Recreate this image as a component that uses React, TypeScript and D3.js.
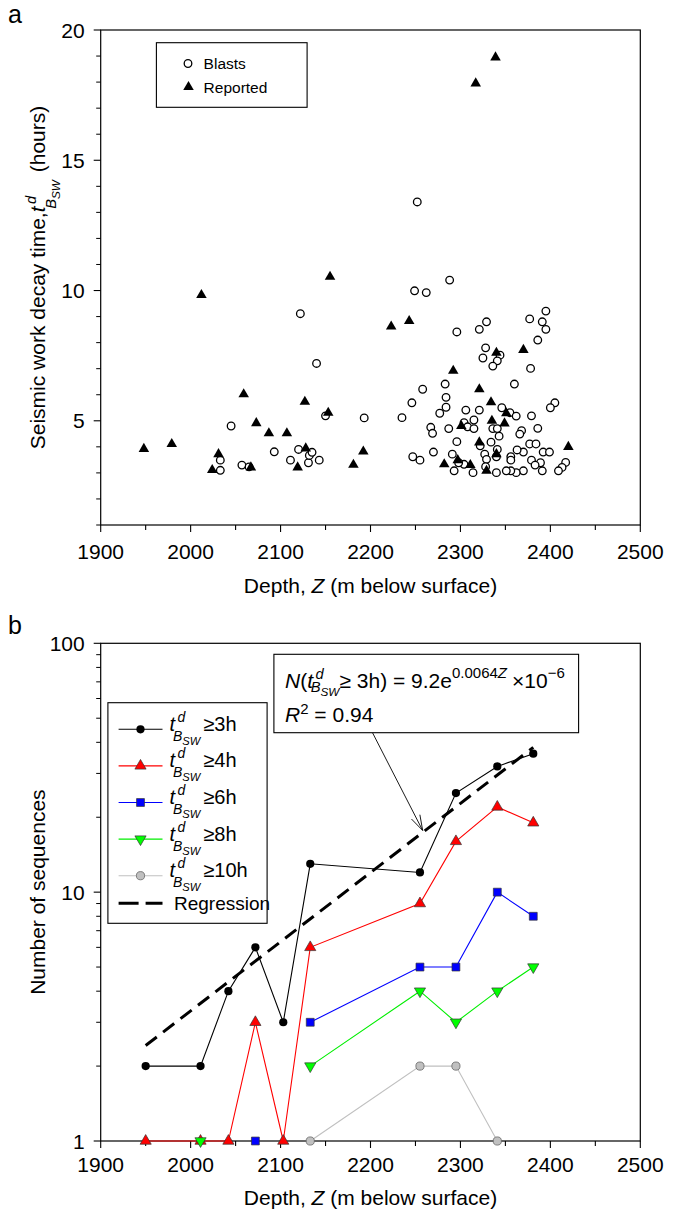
import React from "react";
import * as d3 from "d3";

// ---------- DATA ----------
// Panel a: [depth Z (m), decay time (h)]
const blasts: [number, number][] = [
  [2033, 3.49], [2033, 3.1], [2045, 4.8], [2057, 3.3], [2065, 3.23], [2093, 3.81],
  [2111, 3.49], [2120, 3.9], [2122, 9.11], [2131, 3.39], [2132, 3.67], [2135, 3.79],
  [2140, 7.2], [2143, 3.49], [2150, 5.19], [2193, 5.11], [2235, 5.12],
  [2252, 13.4], [2249, 9.99], [2262, 9.92], [2288, 10.4],
  [2395, 9.21], [2377, 8.91], [2391, 8.8], [2395, 8.51], [2329, 8.8], [2321, 8.51],
  [2296, 8.41], [2386, 8.1], [2328, 7.8], [2344, 7.52], [2325, 7.41], [2341, 7.3],
  [2336, 7.1], [2378, 7.01], [2258, 6.21], [2283, 6.41], [2360, 6.41], [2284, 5.9],
  [2246, 5.69], [2284, 5.52], [2277, 5.29], [2306, 5.41], [2321, 5.41], [2346, 5.5],
  [2355, 5.31], [2362, 5.18], [2405, 5.69], [2400, 5.5], [2379, 5.19], [2315, 5.03],
  [2304, 4.93], [2308, 4.77], [2315, 4.7], [2267, 4.75], [2269, 4.52], [2287, 4.7],
  [2336, 4.7], [2341, 4.7], [2343, 4.41], [2368, 4.62], [2366, 4.49], [2386, 4.71],
  [2296, 4.2], [2334, 4.18], [2322, 4.04], [2341, 3.9], [2377, 4.11], [2384, 4.11],
  [2370, 3.8], [2392, 3.8], [2399, 3.8], [2270, 3.8], [2291, 3.72], [2327, 3.72],
  [2340, 3.62], [2356, 3.62], [2363, 3.88], [2247, 3.62], [2255, 3.49], [2329, 3.52],
  [2356, 3.49], [2379, 3.49], [2389, 3.39], [2417, 3.4], [2413, 3.21], [2409, 3.08],
  [2391, 3.08], [2383, 3.3], [2370, 3.08], [2362, 3.01], [2356, 3.08], [2351, 3.08],
  [2340, 3.01], [2328, 3.24], [2314, 3.01], [2304, 3.33], [2298, 3.39], [2293, 3.08],
];
const reported: [number, number][] = [
  [1948, 3.92], [1979, 4.11], [2012, 9.83], [2024, 3.11], [2031, 3.72], [2059, 6.02],
  [2067, 3.21], [2073, 4.91], [2087, 4.52], [2107, 4.52], [2119, 3.21], [2127, 5.73],
  [2128, 3.94], [2153, 5.31], [2155, 10.53], [2181, 3.31], [2192, 3.82], [2223, 8.62],
  [2243, 8.83], [2282, 3.33], [2292, 6.92], [2297, 3.49], [2301, 4.8], [2311, 3.3],
  [2317, 17.95], [2321, 6.21], [2321, 4.17], [2329, 3.08], [2334, 5.71], [2335, 5.0],
  [2339, 18.95], [2340, 7.61], [2340, 3.72], [2349, 4.9], [2351, 5.29], [2370, 7.72],
  [2420, 4.0],
];

// Panel b: number of sequences per depth level
const levelDepths = [1950, 2011, 2042, 2072, 2103, 2133, 2255, 2295, 2341, 2381];
const countGe3 = [2, 2, 4, 6, 3, 13, 12, 25, 32, 36];
const countGe4 = [1, 1, 1, 3, 1, 6, 9, 16, 22, 19];
const countGe6 = [null, null, null, 1, null, 3, 5, 5, 10, 8];
const countGe8 = [null, 1, null, null, null, 2, 4, 3, 4, 5];
const countGe10 = [null, null, null, null, null, 1, 2, 2, 1, null];
const thresholds = ["3h", "4h", "6h", "8h", "10h"];

// Regression N = A * exp(B*Z)
const regA = 9.2e-6;
const regB = 0.0064;
const regDomain = [1950, 2381];
const regArrowDepth = 2258;

const xTicks = [1900, 2000, 2100, 2200, 2300, 2400, 2500];
const xMinorTicks = [1950, 2050, 2150, 2250, 2350, 2450];
const yTicksA = [5, 10, 15, 20];
const yTicksB = [1, 10, 100];

// ---------- LAYOUT ----------
const W = 677;
const H = 1211;
const XL = 100.7;
const XR = 640.3;
const A_TOP = 30;
const A_BOT = 525;
const B_TOP = 643.3;
const B_BOT = 1141;
const FONT = "'Liberation Sans', Arial, Helvetica, sans-serif";

const xA = d3.scaleLinear().domain([1900, 2500]).range([XL, XR]);
const yA = d3.scaleLinear().domain([1, 20]).range([A_BOT, A_TOP]);
const xB = d3.scaleLinear().domain([1900, 2500]).range([XL, XR]);
const yB = d3.scaleLog().domain([1, 100]).range([B_BOT, B_TOP]);

const triUp = d3.symbol().type(d3.symbolTriangle).size(48)()!;
const triUpB = d3.symbol().type(d3.symbolTriangle).size(54)()!;
const squareB = d3.symbol().type(d3.symbolSquare).size(62)()!;

// t^d_{B_SW} as flowing tspans; drop = how far the B baseline sits below the main baseline (in em)
function tParts(s: number, rest: string, restDx: number, k: string, drop = 0.5) {
  return [
    <tspan key={k + "t"} fontStyle="italic">t</tspan>,
    <tspan key={k + "d"} fontStyle="italic" fontSize={0.7 * s} dx={0.12 * s} dy={-0.45 * s}>d</tspan>,
    <tspan key={k + "B"} fontStyle="italic" fontSize={0.7 * s} dx={-0.62 * s} dy={(0.45 + drop) * s}>B</tspan>,
    <tspan key={k + "S"} fontStyle="italic" fontSize={0.56 * s} dy={0.2 * s}>SW</tspan>,
    <tspan key={k + "r"} dx={restDx} dy={-(drop + 0.2) * s}>{rest}</tspan>,
  ];
}

type SeriesDef = {
  values: (number | null)[];
  color: string;
  marker: "circle" | "tri" | "square" | "triDown" | "gcircle";
  fill: string;
  stroke: string;
};

const seriesDefs: SeriesDef[] = [
  { values: countGe3, color: "#000000", marker: "circle", fill: "#000000", stroke: "#000000" },
  { values: countGe4, color: "#ff0000", marker: "tri", fill: "#ff0000", stroke: "#333333" },
  { values: countGe6, color: "#0000ff", marker: "square", fill: "#0000ff", stroke: "#333333" },
  { values: countGe8, color: "#00ee00", marker: "triDown", fill: "#00ff00", stroke: "#333333" },
  { values: countGe10, color: "#c0c0c0", marker: "gcircle", fill: "#c0c0c0", stroke: "#666666" },
];

function Marker({ m, x, y, fill, stroke }: { m: SeriesDef["marker"]; x: number; y: number; fill: string; stroke: string }) {
  if (m === "circle") return <circle cx={x} cy={y} r={4.1} fill={fill} />;
  if (m === "gcircle") return <circle cx={x} cy={y} r={4.1} fill={fill} stroke={stroke} strokeWidth={0.8} />;
  if (m === "tri") return <path d={triUpB} transform={`translate(${x},${y})`} fill={fill} stroke={stroke} strokeWidth={0.7} />;
  if (m === "triDown") return <path d={triUpB} transform={`translate(${x},${y}) rotate(180)`} fill={fill} stroke={stroke} strokeWidth={0.7} />;
  return <path d={squareB} transform={`translate(${x},${y})`} fill={fill} stroke={stroke} strokeWidth={0.7} />;
}

function XAxis({ scale, y, labelBase, titleBase }: { scale: d3.ScaleLinear<number, number>; y: number; labelBase: number; titleBase: number }) {
  return (
    <g>
      {xTicks.map((t) => (
        <g key={t}>
          <line x1={scale(t)} x2={scale(t)} y1={y} y2={y + 7} stroke="#000" strokeWidth={1.1} />
          <text x={scale(t)} y={labelBase} textAnchor="middle" fontSize={21}>{t}</text>
        </g>
      ))}
      {xMinorTicks.map((t) => (
        <line key={t} x1={scale(t)} x2={scale(t)} y1={y} y2={y + 5} stroke="#000" strokeWidth={1.1} />
      ))}
      <text x={(XL + XR) / 2} y={titleBase} textAnchor="middle" fontSize={21}>
        Depth, <tspan fontStyle="italic">Z</tspan> (m below surface)
      </text>
    </g>
  );
}

export default function App() {
  const lineGen = d3
    .line<[number, number | null]>()
    .defined((d) => d[1] !== null)
    .x((d) => xB(d[0]))
    .y((d) => yB(d[1] as number));

  const regPts: [number, number][] = regDomain.map((z) => [xB(z), yB(regA * Math.exp(regB * z))]);

  const tipX = xB(regArrowDepth);
  const tipY = yB(regA * Math.exp(regB * regArrowDepth)) - 2;
  const startX = 372.5;
  const startY = 732.7;
  const ang = Math.atan2(tipY - startY, tipX - startX);
  const hl = 16;
  const hw = 0.3;
  const wing1 = [tipX - hl * Math.cos(ang - hw), tipY - hl * Math.sin(ang - hw)];
  const wing2 = [tipX - hl * Math.cos(ang + hw), tipY - hl * Math.sin(ang + hw)];

  const yMinorA = d3.range(1, 21).filter((v) => !yTicksA.includes(v));
  const yMinorB: number[] = [];
  [1, 10].forEach((dec) => d3.range(2, 10).forEach((k) => yMinorB.push(k * dec)));

  const legendRowsY = [729.3, 765.9, 802.5, 839.1, 875.7];

  return (
    <svg
      width={W}
      height={H}
      style={{ position: "absolute", left: 0, top: 0, background: "#fff" }}
      fontFamily={FONT}
    >
      <rect x={0} y={0} width={W} height={H} fill="#fff" />

      {/* ================= PANEL A ================= */}
      <text x={8} y={23} fontSize={25}>a</text>
      <rect x={XL} y={A_TOP} width={XR - XL} height={A_BOT - A_TOP} fill="none" stroke="#000" strokeWidth={1.2} />
      {yTicksA.map((t) => (
        <g key={t}>
          <line x1={XL - 7} x2={XL} y1={yA(t)} y2={yA(t)} stroke="#000" strokeWidth={1.1} />
          <text x={XL - 16} y={yA(t) + 7.5} textAnchor="end" fontSize={21}>{t}</text>
        </g>
      ))}
      {yMinorA.map((t) => (
        <line key={t} x1={XL - 4.5} x2={XL} y1={yA(t)} y2={yA(t)} stroke="#000" strokeWidth={1} />
      ))}
      <XAxis scale={xA} y={A_BOT} labelBase={558.5} titleBase={593} />
      <text transform={`translate(45,${(A_TOP + A_BOT) / 2}) rotate(-90)`} textAnchor="middle" fontSize={21}>
        Seismic work decay time,
        {tParts(21, " (hours)", 2, "ya")}
      </text>

      {blasts.map((d, i) => (
        <circle key={"b" + i} cx={xA(d[0])} cy={yA(d[1])} r={3.8} fill="#fff" stroke="#000" strokeWidth={1.3} />
      ))}
      {reported.map((d, i) => (
        <path key={"r" + i} d={triUp} transform={`translate(${xA(d[0])},${yA(d[1])})`} fill="#000" />
      ))}

      {/* legend a */}
      <rect x={156.4} y={42.7} width={150.7} height={64.6} fill="#fff" stroke="#000" strokeWidth={1.1} />
      <circle cx={188} cy={63.5} r={3.8} fill="#fff" stroke="#000" strokeWidth={1.3} />
      <text x={203.6} y={69.3} fontSize={15.5}>Blasts</text>
      <path d={triUp} transform="translate(188.5,87)" fill="#000" />
      <text x={203.6} y={92.7} fontSize={15.5}>Reported</text>

      {/* ================= PANEL B ================= */}
      <text x={8} y={634} fontSize={25}>b</text>
      <rect x={XL} y={B_TOP} width={XR - XL} height={B_BOT - B_TOP} fill="none" stroke="#000" strokeWidth={1.2} />
      {yTicksB.map((t) => (
        <g key={t}>
          <line x1={XL - 7} x2={XL} y1={yB(t)} y2={yB(t)} stroke="#000" strokeWidth={1.1} />
          <text x={XL - 16} y={yB(t) + 7.5} textAnchor="end" fontSize={21}>{t}</text>
        </g>
      ))}
      {yMinorB.map((t) => (
        <line key={t} x1={XL - 4.5} x2={XL} y1={yB(t)} y2={yB(t)} stroke="#000" strokeWidth={1} />
      ))}
      <XAxis scale={xB} y={B_BOT} labelBase={1172} titleBase={1205} />
      <text transform={`translate(45,${(B_TOP + B_BOT) / 2}) rotate(-90)`} textAnchor="middle" fontSize={21}>
        Number of sequences
      </text>

      {/* series */}
      {seriesDefs.map((s, si) => {
        const pts = levelDepths.map((z, i) => [z, s.values[i]] as [number, number | null]);
        return (
          <g key={"s" + si}>
            <path d={lineGen(pts) || ""} fill="none" stroke={s.color} strokeWidth={1.1} />
            {si === 0 && (
              <path
                d={d3.line()(regPts) || ""}
                fill="none"
                stroke="#000"
                strokeWidth={3}
                strokeDasharray="14,8"
              />
            )}
            {pts
              .filter((p) => p[1] !== null)
              .map((p, i) => (
                <Marker key={i} m={s.marker} x={xB(p[0])} y={yB(p[1] as number)} fill={s.fill} stroke={s.stroke} />
              ))}
          </g>
        );
      })}

      {/* equation box + arrow */}
      <line x1={startX} y1={startY} x2={tipX} y2={tipY} stroke="#000" strokeWidth={0.9} />
      <path d={`M${wing1[0]},${wing1[1]} L${tipX},${tipY} L${wing2[0]},${wing2[1]}`} fill="none" stroke="#000" strokeWidth={0.9} />
      <rect x={273.9} y={654.3} width={304.7} height={78.4} fill="#fff" stroke="#000" strokeWidth={1.1} />
      <text x={285} y={688} fontSize={21}>
        <tspan fontStyle="italic">N</tspan>(
        {tParts(21, "≥ 3h) = 9.2e", 0, "eq", 0.2)}
        <tspan fontSize={15} dy={-10}>0.0064</tspan>
        <tspan fontSize={15} fontStyle="italic">Z</tspan>
        <tspan dx={5} dy={10}>×10</tspan>
        <tspan fontSize={15} dy={-10}>−6</tspan>
      </text>
      <text x={285} y={722} fontSize={21}>
        <tspan fontStyle="italic">R</tspan>
        <tspan fontSize={15} dy={-8}>2</tspan>
        <tspan dy={8}> = 0.94</tspan>
      </text>

      {/* legend b */}
      <rect x={107.9} y={702.7} width={159.2} height={220.6} fill="#fff" stroke="#000" strokeWidth={1.1} />
      {seriesDefs.map((s, i) => (
        <g key={"lg" + i}>
          <line x1={118.6} x2={162.5} y1={legendRowsY[i]} y2={legendRowsY[i]} stroke={s.color} strokeWidth={1.1} />
          <Marker m={s.marker} x={140.5} y={legendRowsY[i]} fill={s.fill} stroke={s.stroke} />
          <text x={169.6} y={legendRowsY[i] + 1.5} fontSize={20}>
            {tParts(20, "≥" + thresholds[i], 3, "lg" + i)}
          </text>
        </g>
      ))}
      <line x1={118.6} x2={162.5} y1={903.3} y2={903.3} stroke="#000" strokeWidth={3} strokeDasharray="20,7" />
      <text x={174} y={909.5} fontSize={19}>Regression</text>
    </svg>
  );
}
